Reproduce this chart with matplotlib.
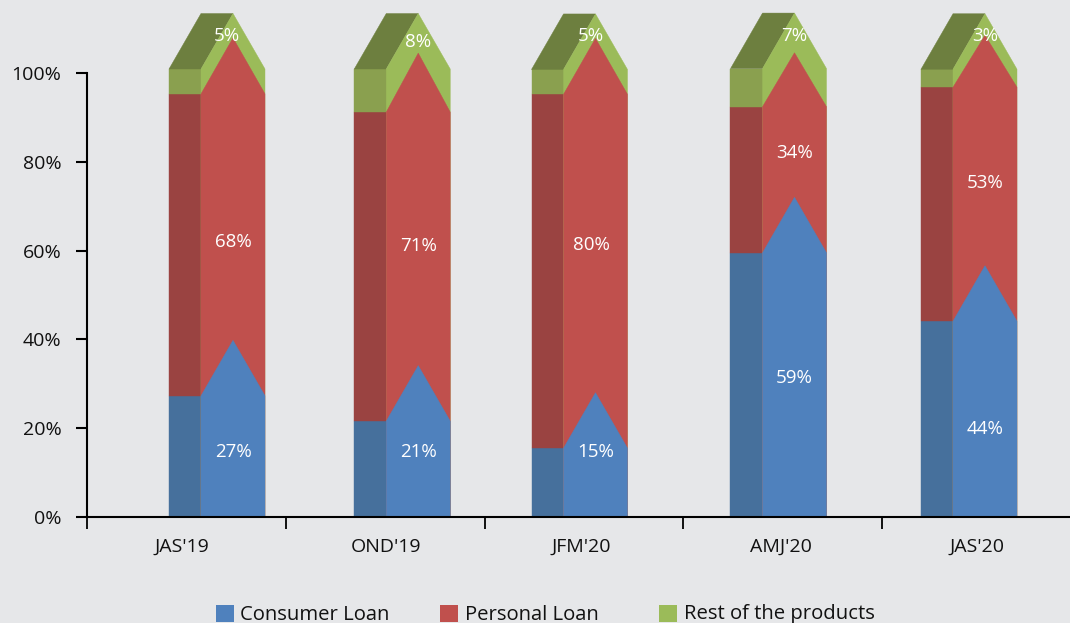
import matplotlib
matplotlib.use("Agg")
import matplotlib.pyplot as plt
from matplotlib.patches import Rectangle

# ---- data ----
categories = ["JAS'19", "OND'19", "JFM'20", "AMJ'20", "JAS'20"]
consumer_values = [27.3, 21.6, 15.5, 59.5, 44.1]
personal_values = [68.0, 69.6, 79.7, 32.9, 52.7]
rest_values = [5.6, 9.7, 5.6, 8.6, 4.05]
consumer_labels = ["27%", "21%", "15%", "59%", "44%"]
personal_labels = ["68%", "71%", "80%", "34%", "53%"]
rest_labels = ["5%", "8%", "5%", "7%", "3%"]
series_names = ["Consumer Loan", "Personal Loan", "Rest of the products"]
y_ticks = [0, 20, 40, 60, 80, 100]

# ---- layout and style ----
W, H = 1070, 623
AX_L, AX_R, AX_B, AX_T = 87, 1070, 517, 73
CAT_PX = 198.75
FIRST_CENTER_PX = 186.5
PX_PER_UNIT = (AX_B - AX_T) / 100
bar_shift_px = [46.5, 33, 11.5, 11.75, 3.5]
cat_label_shift_px = [-5, 0.25, -2.5, -2.25, -4.5]
consumer_label_y = [14.7, 14.7, 14.7, 31.3, 19.8]
personal_label_y = [62.0, 61.1, 61.3, 82.0, 75.3]
rest_label_y = [108.3, 107.0, 108.3, 108.3, 108.3]
consumer_label_dx = [0, 0, 0, 0, 0]
personal_label_dx = [0, 0, -4.5, 0, 0]
rest_label_dx = [-6, 0, -5, 0, 0]
SIDE_PX, FRONT_PX = 32, 64
RISE = 12.5
personal_rise_px = [56, 59, 56, 54, 52]
BG = "#E6E7E9"
front = ["#4F81BD", "#C0504D", "#9BBB59"]
side = ["#46709C", "#9A4341", "#8AA04F"]
CAP = "#6D7F3F"
FONT = "Open Sans"
TXT = "#111111"

plt.rcParams["font.family"] = [FONT, "DejaVu Sans"]
fig = plt.figure(figsize=(W / 100, H / 100), dpi=100, facecolor=BG)
ax = fig.add_axes([AX_L / W, 1 - AX_B / H, (AX_R - AX_L) / W, (AX_B - AX_T) / H], facecolor=BG)
ax.set_xlim((AX_L - FIRST_CENTER_PX) / CAT_PX, (AX_R - FIRST_CENTER_PX) / CAT_PX)
ax.set_ylim(0, 100)


def poly(xs, ys, color, z=2):
    ax.fill(xs, ys, color=color, lw=0.3, clip_on=False, zorder=z)


for i in range(len(categories)):
    mid_px = bar_shift_px[i] - FRONT_PX / 2
    centre = i + bar_shift_px[i] / CAT_PX
    left = i + (mid_px - SIDE_PX) / CAT_PX
    mid = i + mid_px / CAT_PX
    under = mid + 1.5 / CAT_PX
    right = i + (mid_px + FRONT_PX) / CAT_PX
    seg_vals = [consumer_values[i], personal_values[i], rest_values[i]]
    seg_rise = [RISE, personal_rise_px[i] / PX_PER_UNIT, RISE]

    lo = 0
    for k, v in enumerate(seg_vals):
        hi = lo + v
        poly([left, under, under, left], [lo, lo, hi, hi], side[k], z=2)
        lo = hi
    poly([left, mid, centre, mid], [lo, lo, lo + RISE, lo + RISE], CAP, z=2)

    # fronts are stacked top-down so each chevron tip overlays the one above
    tops = [consumer_values[i], consumer_values[i] + personal_values[i], sum(seg_vals)]
    for k in (2, 1, 0):
        xs = [mid, right, right, centre, mid]
        ys = [0, 0, tops[k], tops[k] + seg_rise[k], tops[k]]
        poly(xs, ys, front[k], z=3)

    label_sets = [
        (consumer_labels, consumer_label_y, consumer_label_dx),
        (personal_labels, personal_label_y, personal_label_dx),
        (rest_labels, rest_label_y, rest_label_dx),
    ]
    for labels, ys, dxs in label_sets:
        ax.text(centre + dxs[i] / CAT_PX, ys[i], labels[i], color="white", fontsize=13.5,
                ha="center", va="center", clip_on=False, zorder=5)

# axes
for s in ("top", "right"):
    ax.spines[s].set_visible(False)
for s in ("left", "bottom"):
    ax.spines[s].set_linewidth(1.5)
    ax.spines[s].set_color("#000000")
    ax.spines[s].set_zorder(4)
ax.set_yticks(y_ticks)
ax.set_yticklabels([f"{t}%" for t in y_ticks], fontsize=14, color=TXT)
ax.tick_params(axis="y", length=8, width=1.5, pad=10.5)
ax.set_xticks([i - 0.5 for i in range(len(categories))])
ax.set_xticklabels([])
ax.tick_params(axis="x", length=8.5, width=1.3)
for i, c in enumerate(categories):
    ax.annotate(c, xy=(i, 0), xytext=(cat_label_shift_px[i] * 0.72, -30 * 0.72),
                xycoords=("data", "axes fraction"), textcoords="offset points",
                ha="center", va="center", fontsize=14, color=TXT)

# legend
patch_px = [216, 440, 659]
text_px = [240, 465, 684]
for k, name in enumerate(series_names):
    fig.add_artist(Rectangle((patch_px[k] / W, 1 - 622 / H), 18 / W, 17 / H, transform=fig.transFigure,
                             facecolor=front[k], edgecolor="none"))
    fig.text(text_px[k] / W, 1 - 614.5 / H, name, fontsize=14.6, va="center", ha="left", color=TXT)

fig.savefig("out.png", dpi=100, facecolor=BG)
